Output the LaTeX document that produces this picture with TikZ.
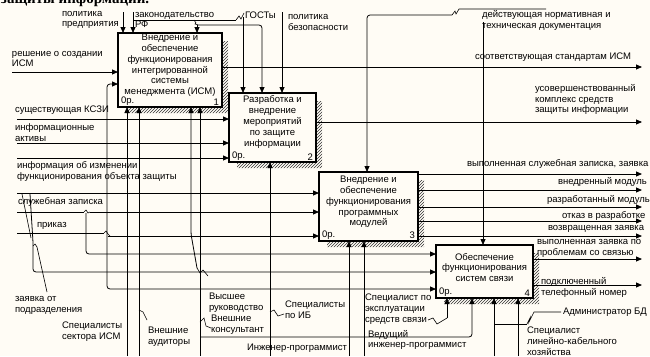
\documentclass[tikz,border=0pt]{standalone}
\usepackage{fontspec}
\setmainfont{Liberation Sans}
\newfontfamily\titlefont{Liberation Serif}
\usetikzlibrary{arrows.meta,patterns}
\definecolor{bg}{HTML}{FFFCF5}
\begin{document}
\begin{tikzpicture}[x=1pt,y=-1pt,
  every node/.style={inner sep=0pt, outer sep=0pt},
  lbl/.style={font=\fontsize{9.5}{10.8}\selectfont, align=left, anchor=west},
  btxt/.style={font=\fontsize{9.5}{10.8}\selectfont, align=center},
  box/.style={draw, line width=1.7pt, fill=bg},
  shad/.style={pattern=north east lines, pattern color=black!80},
  conn/.style={line width=0.8pt, rounded corners=3pt},
  sq/.style={line width=0.6pt},
  arr/.style={conn, -{Triangle[length=6pt,width=5pt]}},
]
\useasboundingbox (0,0) rectangle (650,356);
\fill[bg] (0,0) rectangle (650,356);
\clip (0,0) rectangle (650,356);

% cut-off title
\node[anchor=base west, font=\titlefont\bfseries\fontsize{15}{15}\selectfont] (title) at (1,3) {защиты информации.};

% shadows
\fill[shad] (222,41) -- (228,41) -- (228,113) -- (126,113) -- (126,107) -- (222,107) -- cycle;
\fill[shad] (316,101) -- (322,101) -- (322,168) -- (237,168) -- (237,162) -- (316,162) -- cycle;
\fill[shad] (418,180) -- (424,180) -- (424,247) -- (327,247) -- (327,241) -- (418,241) -- cycle;
\fill[shad] (533,253) -- (539,253) -- (539,304) -- (444,304) -- (444,298) -- (533,298) -- cycle;

% boxes
\node[box, minimum width=104pt, minimum height=74pt] (b1) at (170,70) {};
\node[box, minimum width=87pt, minimum height=69pt] (b2) at (272.5,127.5) {};
\node[box, minimum width=99pt, minimum height=69pt] (b3) at (368.5,206.5) {};
\node[box, minimum width=97pt, minimum height=53pt] (b4) at (484.5,271.5) {};

% top controls
\draw[arr] (123,12) -- (123,0 |- b1.north);
\draw[arr] (133,12) -- (133,0 |- b1.north);
\draw[conn] (133,20) -- (236,20);
\draw[sq] (236,20) -- (239,16) -- (241,19) -- (244,13);
\draw[arr] (243,17) -- (243,0 |- b2.north);
\draw[sq] (194,20) -- (196,23) -- (195,24) -- (198,25);
\draw[arr] (197,25) -- (262,25) -- (262,0 |- b2.north);
\draw[arr] (197,25) -- (197,0 |- b1.north);
\draw[arr] (282,12) -- (282,0 |- b2.north);
\draw[arr] (452,15) -- (367,15) -- (367,0 |- b3.north);
\draw[sq] (452,15) -- (455,11) -- (456,14) -- (459,9) -- (546,9);
\draw[arr] (483,22) -- (483,0 |- b4.north);

% left inputs
\draw[arr] (12,72) -- (b1.west |- 0,72);
\draw[arr] (17,119) -- (b2.west |- 0,119);
\draw[arr] (17,143) -- (b2.west |- 0,143);
\draw[arr] (17,158) -- (b2.west |- 0,158);
\draw[arr] (17,193) -- (b3.west |- 0,193);
\draw[conn] (17,212) -- (84,212);
\draw[sq] (84,212) -- (86,210) -- (88,213) -- (90,212);
\draw[arr] (90,212) -- (b3.west |- 0,212);
\draw[arr] (86,213) |- (b4.west |- 0,254);
\draw[conn] (17,233) -- (104,233);
\draw[sq] (104,233) -- (106,231) -- (108,234) -- (110,236);
\draw[arr] (108,236) -- (b3.west |- 0,236);
\draw[arr] (107,236) |- (b1.west |- 0,84);
\draw[arr] (107,236) |- (b4.west |- 0,289);
\draw[arr] (30,194) -- (33,242) |- (b4.west |- 0,272);
\draw[sq] (22,194) -- (31,238);
\draw[sq] (47,292) -- (37,247) -- (35,244) -- (33,246);

% mechanisms
\draw[arr] (127,356) -- (127,0 |- b1.south);
\draw[arr] (139,356) -- (139,0 |- b1.south);
\draw[sq] (139,310) -- (143,312) -- (147,320);
\draw[arr] (197,268) -- (191,234) -- (191,0 |- b1.south);
\draw[sq] (197,268) -- (200,273) -- (203,270) -- (208,276);
\draw[arr] (200,356) -- (200,0 |- b1.south);
\draw[sq] (200,322) -- (204,318) -- (206,326) -- (211,328);
\draw[arr] (200,337) -| (472,0 |- b4.south);
\draw[arr] (270,356) -- (270,0 |- b2.south);
\draw[sq] (270,312) -- (274,310) -- (278,316) -- (284,314);
\draw[arr] (349,356) -- (349,0 |- b3.south);
\draw[arr] (364,356) -- (364,0 |- b3.south);
\draw[arr] (447,318) -- (447,0 |- b4.south);
\draw[sq] (428,320) -- (433,318) -- (437,324) -- (447,318);
\draw[arr] (494,356) -- (494,0 |- b4.south);
\draw[arr] (518,356) -- (518,0 |- b4.south);
\draw[conn] (494,324) -- (527,324);
\draw[sq] (527,324) -- (530,318) -- (529,322) -- (534,312) -- (561,312);

% outputs
\draw[arr] (b1.east |- 0,67) -- (642,67);
\draw[arr] (b2.east |- 0,122) -- (642,122);
\foreach \yy in {174,190,207,221,236} {\draw[arr] (b3.east |- 0,\yy) -- (642,\yy);}
\draw[arr] (b4.east |- 0,259) -- (642,259);
\draw[arr] (b4.east |- 0,285) -- (642,285);

% box texts
\node[btxt] (b1t) at (170,65.5) {Внедрение и\\обеспечение\\функционирования\\интегрированной\\системы\\менеджмента (ИСМ)};
\node[btxt] (b2t) at (272.5,122) {Разработка и\\внедрение\\мероприятий\\по защите\\информации};
\node[btxt] (b3t) at (368.5,202) {Внедрение и\\обеспечение\\функционирования\\программных\\модулей};
\node[btxt] (b4t) at (484.5,267.5) {Обеспечение\\функционирования\\систем связи};
\node[lbl, anchor=south west] (b1o) at (121,105) {0р.};
\node[lbl, anchor=south east] (b1n) at (219,105) {1};
\node[lbl, anchor=south west] (b2o) at (232,160) {0р.};
\node[lbl, anchor=south east] (b2n) at (313,160) {2};
\node[lbl, anchor=south west] (b3o) at (322,239) {0р.};
\node[lbl, anchor=south east] (b3n) at (415,239) {3};
\node[lbl, anchor=south west] (b4o) at (439,296) {0р.};
\node[lbl, anchor=south east] (b4n) at (530,296) {4};

% labels
\node[lbl] (lPP) at (62,20) {политика\\предприятия};
\node[lbl] (lZak) at (135,20) {законодательство\\РФ};
\node[lbl] (lGost) at (245,15) {ГОСТы};
\node[lbl] (lPB) at (288,22.5) {политика\\безопасности};
\node[lbl] (lDND) at (482,20.5) {действующая нормативная и\\техническая документация};
\node[lbl] (lRes) at (12,59) {решение о создании\\ИСМ};
\node[lbl] (lKSZI) at (15,110) {существующая КСЗИ};
\node[lbl] (lIA) at (15,132.5) {информационные\\активы};
\node[lbl] (lInf) at (17,171.5) {информация об изменении\\функционирования объекта защиты};
\node[lbl] (lSZ) at (18,202) {служебная записка};
\node[lbl] (lPr) at (37,226) {приказ};
\node[lbl] (lZav) at (15,305.5) {заявка от\\подразделения};
\node[lbl] (lSpISM) at (62,331.5) {Специалисты\\сектора ИСМ};
\node[lbl] (lVA) at (148,336.5) {Внешние\\аудиторы};
\node[lbl] (lVR) at (209,302.5) {Высшее\\руководство};
\node[lbl] (lVK) at (211,325) {Внешние\\консультант};
\node[lbl] (lIB) at (285,309.5) {Специалисты\\по ИБ};
\node[lbl] (lIP) at (247,348) {Инженер-программист};
\node[lbl] (lSE) at (365,309) {Специалист по\\эксплуатации\\средств связи};
\node[lbl] (lVIP) at (368,340) {Ведущий\\инженер-программист};
\node[lbl] (lAdm) at (563,312) {Администратор БД};
\node[lbl] (lLK) at (527,341.5) {Специалист\\линейно-кабельного\\хозяйства};
\node[lbl] (lSoot) at (475,57) {соответствующая стандартам ИСМ};
\node[lbl] (lUs) at (535,99.5) {усовершенствованный\\комплекс средств\\защиты информации};
\node[lbl] (lVSZ) at (467,164) {выполненная служебная записка, заявка};
\node[lbl] (lVM) at (558,182) {внедренный модуль};
\node[lbl] (lRM) at (547,200) {разработанный модуль};
\node[lbl] (lOR) at (562,216) {отказ в разработке};
\node[lbl] (lVZ) at (548,229) {возвращенная заявка};
\node[lbl] (lVZS) at (537,248.5) {выполненная заявка по\\проблемам со связью};
\node[lbl] (lPTN) at (541,287.5) {подключенный\\телефонный номер};
\end{tikzpicture}
\end{document}
